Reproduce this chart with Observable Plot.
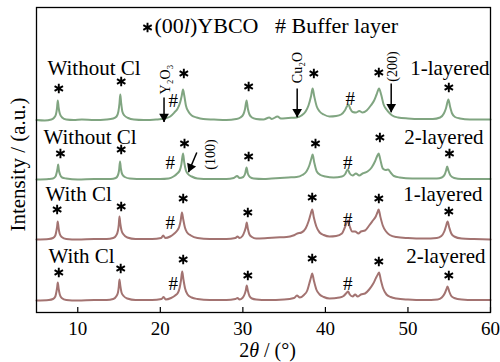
<!DOCTYPE html>
<html><head><meta charset="utf-8">
<script src="https://cdn.jsdelivr.net/npm/d3@7"></script>
<script src="https://cdn.jsdelivr.net/npm/@observablehq/plot@0.6"></script>
<style>body{margin:0;background:#fff} svg{display:block} svg text{font-family:'Liberation Serif','Times New Roman',Times,serif}</style>
</head><body><div id="chart"></div>
<script>
// ---- data ----
const xTicks = [10, 20, 30, 40, 50, 60];
const seriesNames = ["Without Cl 1-layered", "Without Cl 2-layered", "With Cl 1-layered", "With Cl 2-layered"];
const sampleLabels = ["Without Cl", "Without Cl", "With Cl", "With Cl"];
const layerLabels = ["1-layered", "2-layered", "1-layered", "2-layered"];
const lineColors = ["#80a581", "#80a581", "#a37371", "#a37371"];

// [2θ, intensity above baseline]
const t1 = [[5,0.5],[6,0],[6.8,1],[7.1,2.5],[7.35,6],[7.48,12],[7.58,20],[7.68,13],[7.82,7],[8.1,3],[8.6,1],[9.5,0.5],[10.5,1],[12,0.5],[13.5,1],[14.3,2],[14.7,4],[14.92,9],[15.05,17],[15.15,26],[15.25,18],[15.4,9],[15.65,5],[16.1,2.5],[16.8,1],[18,0.5],[19.5,1],[20.5,2],[21.2,4],[21.7,8],[22.1,12],[22.4,18],[22.6,25],[22.75,31],[22.9,25],[23.1,15],[23.4,9],[23.8,5],[24.4,3],[25.2,1.5],[26.5,1],[28,0.5],[29.2,1.5],[29.7,3],[30.05,6],[30.25,11],[30.45,20],[30.6,12],[30.8,6],[31.1,3],[31.6,1.5],[32.5,1],[33.2,3],[33.5,1.5],[34.2,4],[34.6,2],[35.5,2.5],[36.5,3],[37.1,5],[37.6,9],[37.95,15],[38.25,24],[38.45,32],[38.65,24],[38.95,14],[39.3,9],[39.8,6],[40.5,4],[41.3,4.5],[41.9,6],[42.35,10],[42.6,14],[42.8,16],[43.0,12],[43.3,8.5],[43.7,8],[44.1,9.5],[44.5,8],[45.0,10],[45.5,15],[45.9,20],[46.2,26],[46.5,32],[46.75,26],[47.05,16],[47.4,11],[47.7,8],[48.1,5],[48.8,3],[50,2],[51.5,1.5],[53,1.5],[53.9,3],[54.35,7],[54.6,12],[54.9,21],[55.1,14],[55.35,7],[55.7,3.5],[56.3,2],[57.5,1],[59,1],[60,1]];
const t2 = [[5,0],[6.5,0.5],[7.0,1],[7.3,3],[7.45,7],[7.55,11],[7.62,15],[7.72,9],[7.85,5],[8.1,2],[8.6,1],[10,0],[12,0.5],[14,0.5],[14.6,1.5],[14.85,4],[15.0,9],[15.12,18],[15.22,11],[15.4,5],[15.7,2.5],[16.3,1],[18,0.5],[20,0.5],[21,1],[21.6,3],[22.05,6],[22.35,9],[22.55,15],[22.75,26],[22.9,17],[23.1,9],[23.35,5.5],[23.8,3],[24.5,1],[26,0.5],[28,0.5],[28.9,1.5],[29.3,3.5],[29.6,1.5],[30.05,2.5],[30.28,6],[30.45,12],[30.6,6],[30.85,2.5],[31.3,1],[32.5,0.5],[33.5,1],[34.5,1.5],[35.5,2],[36.5,2.5],[37.2,4.5],[37.7,8],[38.05,14],[38.3,21],[38.45,25],[38.65,17],[38.95,8],[39.4,4.5],[40,3],[41,2],[42.0,3],[42.4,5.5],[42.7,10],[42.95,6],[43.3,4],[43.7,6],[44.1,4],[44.5,6],[45.1,8],[45.6,12],[46.0,18],[46.25,23],[46.45,26],[46.65,20],[46.95,11],[47.3,9.5],[47.6,10],[47.9,7],[48.3,3.5],[49,2],[50.5,1],[52,1],[53.5,1],[54.1,2],[54.45,5],[54.62,9],[54.75,13],[54.9,9],[55.15,4],[55.6,1.5],[56.5,0.5],[58,0.5],[60,0.5]];
const t3 = [[5,0],[6.5,0.5],[7.0,1.5],[7.28,4],[7.42,9],[7.5,13],[7.57,18],[7.67,12],[7.8,6],[8.05,2.5],[8.6,0.5],[10,0],[12,0.5],[13.5,0.5],[14.3,1.5],[14.65,4],[14.87,9],[14.97,15],[15.05,23],[15.15,16],[15.3,9],[15.55,5],[16,2],[17,0.5],[19,0.5],[20.1,1.5],[20.35,4],[20.6,1.5],[21.2,3],[21.7,6],[22.05,9],[22.3,13],[22.47,19],[22.62,27],[22.78,20],[22.98,12],[23.25,7],[23.7,4],[24.5,1.5],[26,0.5],[28,0.5],[29.1,1.5],[29.35,3],[29.6,1.5],[29.95,3.5],[30.2,8],[30.35,12],[30.47,17],[30.6,11],[30.8,5],[31.1,2.5],[31.6,1],[33,1.5],[34,2],[35.3,2.5],[36.1,4],[36.6,6],[37.1,7],[37.6,11],[37.95,18],[38.2,25],[38.4,30],[38.6,22],[38.9,13],[39.3,7],[39.8,4.5],[40.5,3],[41.3,3.5],[42.0,6],[42.35,12],[42.6,17],[42.75,19],[42.95,13],[43.25,8],[43.6,8],[44.0,6],[44.3,8],[44.8,9],[45.3,14],[45.75,19],[46.1,23],[46.3,27],[46.45,30],[46.65,23],[46.95,14],[47.35,8],[47.8,4.5],[48.6,2.5],[50,1.5],[52,1],[53.5,1.5],[54.05,3.5],[54.4,8],[54.6,13],[54.8,18],[55.0,12],[55.25,6],[55.6,3],[56.5,1],[58,0.5],[60,0]];
const t4 = [[5,0],[6.5,0.5],[7.0,1.5],[7.28,4],[7.42,9],[7.5,13],[7.58,18],[7.68,12],[7.82,6],[8.05,2.5],[8.6,0.5],[10,0],[12,0.5],[13.5,0.5],[14.3,1.5],[14.65,4],[14.87,8],[14.97,14],[15.05,21],[15.15,15],[15.3,8],[15.55,4.5],[16,2],[17,0.5],[19,0.5],[20.15,1.5],[20.4,3.5],[20.65,1],[21.3,2.5],[21.8,5],[22.15,8],[22.35,13],[22.5,20],[22.65,29],[22.8,21],[23.0,12],[23.3,6],[23.8,3],[24.5,1.5],[26,0.5],[28,0.5],[29.1,1.5],[29.35,2.5],[29.6,1],[29.95,2.5],[30.2,6],[30.35,10],[30.47,15],[30.6,10],[30.8,4.5],[31.1,2],[31.6,1],[33,0.5],[35,1],[36.2,2.5],[36.55,5],[36.9,3],[37.4,5.5],[37.8,10],[38.05,17],[38.25,23],[38.4,27],[38.6,20],[38.9,11],[39.3,6],[39.8,3.5],[40.5,2],[41.7,3],[42.2,4.5],[42.55,7.5],[42.75,9],[42.95,6],[43.3,4],[43.6,6],[43.9,4],[44.3,6],[44.8,7],[45.3,11],[45.8,17],[46.15,23],[46.35,26],[46.5,28],[46.7,21],[47.0,12],[47.4,6],[47.9,3.5],[48.6,2],[50,1],[52,0.5],[53.6,1],[54.1,3],[54.45,7],[54.65,11],[54.8,14],[55.0,9],[55.25,4.5],[55.6,2.5],[56.5,1],[58,0.5],[60,0.5]];

// annotation symbols: [2θ, level]
const starMarks = [
  [7.7,223],[15.26,230],[22.85,238],[30.7,225],[38.6,238],[46.47,239],[54.95,224],
  [7.9,158],[15.26,162],[22.93,168],[30.7,155],[38.8,168],[46.6,174],[55.03,158],
  [7.5,102],[15.26,105],[22.77,113],[30.6,99],[38.4,114],[46.47,113],[54.95,100],
  [7.7,39],[15.2,43],[22.77,52],[30.6,36],[38.4,53],[46.47,50],[54.95,36]
];
const hashMarks = [[21.56,211],[43.0,213],[21.2,149],[42.7,149],[21.2,89],[42.7,92],[21.56,28],[42.7,28]];
const phaseLabels = ["Y₂O₃", "Cu₂O", "(200)", "(100)"];
const legendTexts = ["(00l)YBCO", "# Buffer layer"];
const xLabel = "2θ / (°)";
const yLabel = "Intensity / (a.u.)";

// ---- layout (not data) ----
const baselines = [191, 132, 72, 11];
const traces = [t1, t2, t3, t4];
const rows = traces.flatMap((pts, i) => pts.map(([x, v]) => ({name: seriesNames[i], x, y: v + baselines[i]})));

const leftLabelPos = [[6.33, 243.6], [5.85, 174], [6.09, 117], [6.45, 55]];
const rightLabelPos = [[59.88, 243.6], [59.15, 174], [59.03, 117], [59.4, 55]];
const phasePos = [[20.63, 232], [36.62, 244], [48.13, 245], [26.08, 157]];
const arrowsV = [[20.45, 214, 189.5], [36.58, 223, 194.3], [47.97, 228, 199.3]];
const arrowD = [[24.42, 159, 23.41, 139.3]];

const font = "'Liberation Serif', 'Times New Roman', Times, serif";

const plot = Plot.plot({
  width: 500, height: 362,
  marginLeft: 36, marginRight: 10, marginTop: 7, marginBottom: 50,
  x: {domain: [5, 60]},
  y: {domain: [-1, 304], axis: null},
  color: {domain: seriesNames, range: lineColors},
  style: {fontFamily: font, background: "#fff", color: "#000"},
  marks: [
    Plot.axisX({ticks: xTicks, tickSize: 0, tickPadding: 9, fontSize: 19, fontFamily: font, label: null}),
    Plot.ruleX(xTicks, {x: d => d, y1: -1, y2: 4, stroke: "#000", strokeWidth: 1.2}),
    Plot.line(rows, {x: "x", y: "y", z: "name", stroke: "name", strokeWidth: 2, curve: "monotone-x"}),
    Plot.frame({stroke: "#000", strokeWidth: 1.3}),
    // stars & hashes
    Plot.dot(starMarks, {x: d => d[0], y: d => d[1], symbol: "asterisk", r: 4.6, stroke: "#000", strokeWidth: 1.9}),
    Plot.dot([[18.45, 284]], {x: d => d[0], y: d => d[1], symbol: "asterisk", r: 4.6, stroke: "#000", strokeWidth: 1.9}),
    Plot.text(hashMarks, {x: d => d[0], y: d => d[1], text: () => "#", fontSize: 19, fontFamily: font}),
    // legend texts
    Plot.text([legendTexts[0]], {x: 19.3, y: 285.1, text: d => d, textAnchor: "start", fontSize: 22, fontFamily: font}),
    Plot.text([legendTexts[1]], {x: 33.9, y: 285.1, text: d => d, textAnchor: "start", fontSize: 22, fontFamily: font}),
    // sample labels
    Plot.text(sampleLabels, {x: (d, i) => leftLabelPos[i][0], y: (d, i) => leftLabelPos[i][1], text: d => d, textAnchor: "start", fontSize: 21, fontFamily: font}),
    Plot.text(layerLabels, {x: (d, i) => rightLabelPos[i][0], y: (d, i) => rightLabelPos[i][1], text: d => d, textAnchor: "end", fontSize: 21, fontFamily: font}),
    // phase labels
    Plot.text(phaseLabels, {x: (d, i) => phasePos[i][0], y: (d, i) => phasePos[i][1], text: d => d, rotate: -90, fontSize: 14, fontFamily: font}),
    // arrows
    Plot.link(arrowsV, {x1: d => d[0], y1: d => d[1], x2: d => d[0], y2: d => d[2], stroke: "#000", strokeWidth: 1.5}),
    Plot.dot(arrowsV, {x: d => d[0], y: d => d[2], symbol: "triangle", r: 3.6, fill: "#000", rotate: 180, dy: -5.4}),
    Plot.link(arrowD, {x1: d => d[0], y1: d => d[1], x2: d => d[2], y2: d => d[3], stroke: "#000", strokeWidth: 1.5}),
    Plot.dot(arrowD, {x: d => d[2], y: d => d[3], symbol: "triangle", r: 3.6, fill: "#000", rotate: 202.8, dx: 2.1, dy: -5.0}),
    // axis titles
    Plot.text([xLabel], {frameAnchor: "bottom", lineAnchor: "middle", textAnchor: "middle", dy: 38, dx: 4, text: d => d, fontSize: 20, fontFamily: font}),
    Plot.text([yLabel], {frameAnchor: "left", lineAnchor: "middle", textAnchor: "middle", dx: -18, dy: 4.5, rotate: -90, text: d => d, fontSize: 21, fontFamily: font})
  ]
});

// italic parts
d3.select(plot).selectAll("text").each(function () {
  const t = this.textContent;
  const s = d3.select(this);
  if (t === "(00l)YBCO") {
    s.text(null);
    s.append("tspan").text("(00");
    s.append("tspan").attr("font-style", "italic").text("l");
    s.append("tspan").text(")YBCO");
  } else if (t === "2θ / (°)") {
    s.text(null);
    s.append("tspan").text("2");
    s.append("tspan").attr("font-style", "italic").text("θ");
    s.append("tspan").text(" / (°)");
  }
});

document.getElementById("chart").appendChild(plot);
</script>
</body></html>
